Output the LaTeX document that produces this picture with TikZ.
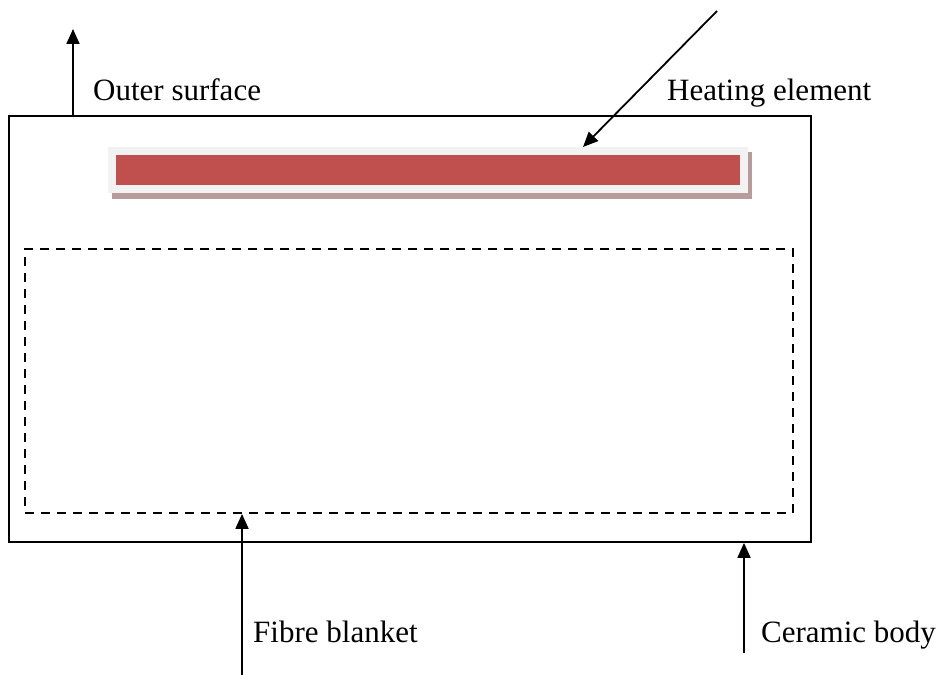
\documentclass[tikz,border=0pt]{standalone}
\usepackage{fontspec}
\setmainfont{Liberation Serif}
\usetikzlibrary{arrows.meta, positioning}
\definecolor{heatred}{HTML}{C0504D}
\definecolor{heatshadow}{HTML}{B89C9C}

\begin{document}
\begin{tikzpicture}[x=1pt, y=-1pt,
        body/.style={draw, line width=1.8pt, minimum width=802pt, minimum height=426pt, inner sep=0pt},
        blanket/.style={draw, line width=1.8pt, dash pattern=on 9pt off 7pt, minimum width=768pt, minimum height=264pt, inner sep=0pt},
        heater/.style={fill=heatred, draw=gray!10, line width=8pt, minimum width=632pt, minimum height=38pt, inner sep=0pt},
        lbl/.style={anchor=base west, inner sep=0pt, font=\fontsize{31}{36}\selectfont},
        arr/.style={-{Triangle[length=15pt, width=13pt]}, line width=1.8pt}
    ]
    \useasboundingbox (0,0) rectangle (945,677);

    % body
    \node[body] (body) at (410,329) {};
    \node[blanket] (blanket) at (409,381) {};
    \fill[heatshadow] (112,193) rectangle (752,199);
    \fill[heatshadow] (748,152) rectangle (752,199);
    \node[heater] (heater) at (428,170) {};

    % free ends
    \coordinate (osfree) at (73,29);
    \coordinate (hefree) at (717,11);
    \coordinate (fbfree) at (242,675);
    \coordinate (cbfree) at (744,653);

    % labels
    \node[lbl] (outer) at (93,100) {Outer surface};
    \node[lbl] (heating) at (667,100) {Heating element};
    \node[lbl] (fibre) at (253,642) {Fibre blanket};
    \node[lbl] (ceramic) at (761,642) {Ceramic body};

    % arrows
    \draw[arr] (body.north -| osfree) -- (osfree);
    \draw[arr] (hefree) -- ([xshift=475pt]heater.north west);
    \draw[arr] (fbfree) -- (blanket.south -| fbfree);
    \draw[arr] (cbfree) -- (body.south -| cbfree);

\end{tikzpicture}
\end{document}
